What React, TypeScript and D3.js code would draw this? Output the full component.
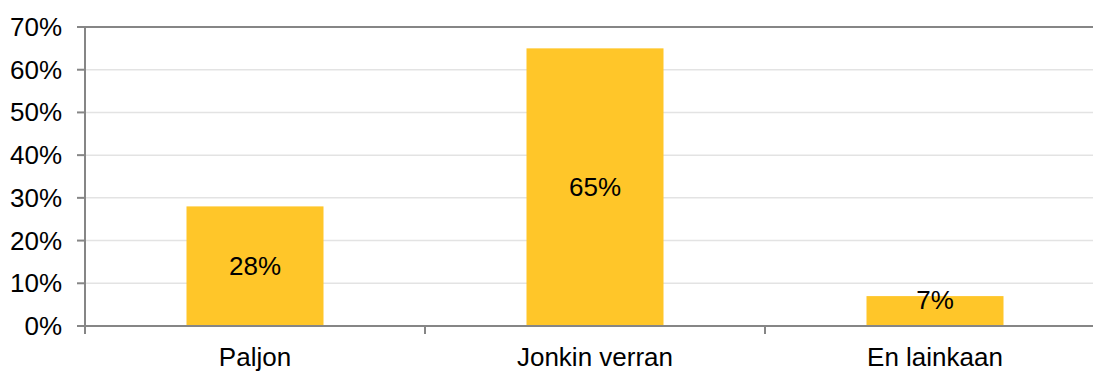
import React from "react";
import * as d3 from "d3";

const categories = ["Paljon", "Jonkin verran", "En lainkaan"];
const values = [28, 65, 7];
const yTicks = [0, 10, 20, 30, 40, 50, 60, 70];

const W = 1093;
const H = 371;
const plot = { left: 85, right: 1105, top: 27, bottom: 326 };
const FONT = "Arial, 'Liberation Sans', Helvetica, sans-serif";
const AXIS = "#868686";
const GRID = "#E3E3E3";
const BAR = "#FFC629";
const FS = 26;

export default function App() {
  const pad = 203 / 340;
  const x = d3
    .scaleBand<string>()
    .domain(categories)
    .range([plot.left, plot.right])
    .paddingInner(pad)
    .paddingOuter(pad / 2);
  const xCell = d3.scaleBand<string>().domain(categories).range([plot.left, plot.right]);
  const y = d3.scaleLinear().domain([0, 70]).range([plot.bottom, plot.top]);

  const catBounds = categories.map((c) => (xCell(c) as number) + xCell.bandwidth());

  return (
    <svg
      width={W}
      height={H}
      style={{ position: "absolute", left: 0, top: 0, background: "#fff" }}
      fontFamily={FONT}
    >
      {/* horizontal gridlines */}
      {yTicks
        .filter((t) => t > 0 && t < 70)
        .map((t) => (
          <line key={"g" + t} x1={plot.left} x2={plot.right} y1={y(t)} y2={y(t)} stroke={GRID} strokeWidth={1.5} />
        ))}
      {/* plot frame top */}
      <line x1={plot.left} x2={plot.right} y1={y(70)} y2={y(70)} stroke={AXIS} strokeWidth={2} />

      {/* bars */}
      {categories.map((c, i) => (
        <rect
          key={c}
          x={x(c)}
          y={y(values[i])}
          width={x.bandwidth()}
          height={y(0) - y(values[i])}
          fill={BAR}
        />
      ))}

      {/* value labels */}
      {categories.map((c, i) => {
        const mid = (y(values[i]) + y(0)) / 2;
        const cy = Math.min(mid, plot.bottom - 26);
        return (
          <text
            key={"v" + c}
            x={(x(c) as number) + x.bandwidth() / 2}
            y={cy}
            textAnchor="middle"
            dominantBaseline="central"
            fontSize={FS}
            fill="#000"
          >
            {values[i]}%
          </text>
        );
      })}

      {/* y axis */}
      <line x1={plot.left} x2={plot.left} y1={plot.top - 1} y2={plot.bottom + 8} stroke={AXIS} strokeWidth={2} />
      {yTicks.map((t) => (
        <g key={"t" + t}>
          <line x1={plot.left - 8} x2={plot.left} y1={y(t)} y2={y(t)} stroke={AXIS} strokeWidth={2} />
          <text x={62} y={y(t)} textAnchor="end" dominantBaseline="central" fontSize={FS} fill="#000">
            {t}%
          </text>
        </g>
      ))}

      {/* x axis */}
      <line x1={plot.left - 8} x2={plot.right} y1={plot.bottom} y2={plot.bottom} stroke={AXIS} strokeWidth={2} />
      {catBounds.map((b, i) => (
        <line key={"xb" + i} x1={b} x2={b} y1={plot.bottom} y2={plot.bottom + 8} stroke={AXIS} strokeWidth={2} />
      ))}
      {categories.map((c) => (
        <text
          key={"c" + c}
          x={(xCell(c) as number) + xCell.bandwidth() / 2}
          y={366}
          textAnchor="middle"
          fontSize={FS}
          fill="#000"
        >
          {c}
        </text>
      ))}
    </svg>
  );
}
